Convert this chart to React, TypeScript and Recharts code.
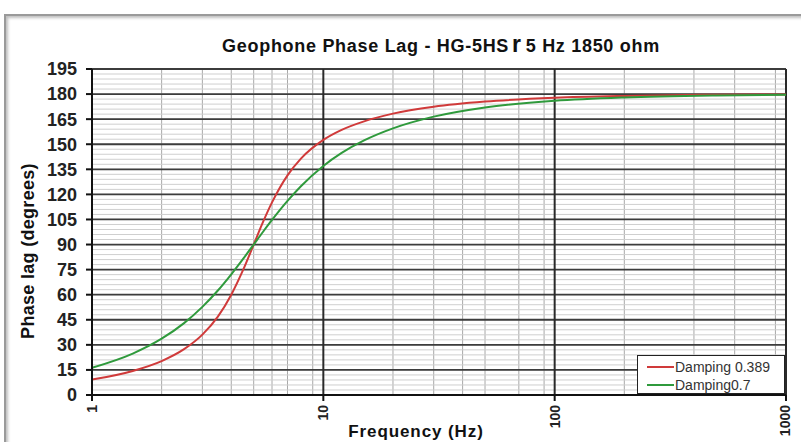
import { LineChart, Line, XAxis, YAxis, CartesianGrid } from "recharts";

const frequencies = [1, 1.5, 2, 2.5, 3, 3.5, 4, 4.5, 5, 5.5, 6, 7, 8, 10, 12, 15, 20, 30, 50, 100, 200, 500, 1000];
const damping389 = [9.2, 14.4, 20.3, 27.4, 36.1, 46.9, 60.0, 74.8, 90, 103.8, 115.2, 131.4, 141.4, 152.6, 158.6, 163.7, 168.3, 172.4, 175.5, 177.8, 178.9, 179.6, 179.8];
const damping07 = [16.3, 24.8, 33.7, 43.0, 52.7, 62.5, 72.2, 81.4, 90, 97.8, 104.7, 116.1, 124.9, 137.0, 144.8, 152.3, 159.5, 166.5, 172.0, 176.0, 178.0, 179.2, 179.6];

const series = [
  { key: "d389", name: "Damping 0.389", color: "#d03a3a" },
  { key: "d07", name: "Damping0.7", color: "#2f9a3c" },
];

const yTicks = [0, 15, 30, 45, 60, 75, 90, 105, 120, 135, 150, 165, 180, 195];
const yMinor = Array.from({ length: 66 }, (_, i) => i * 3);
const xTicks = [1, 10, 100, 1000];
const xMinor = [1, 10, 100].flatMap((d) => [2, 3, 4, 5, 6, 7, 8, 9].map((m) => m * d));

const data = frequencies.map((f, i) => ({ f, d389: damping389[i], d07: damping07[i] }));

const axisFont = "'Liberation Sans', Arial, sans-serif";

function XTick(props: any) {
  const { x, y, payload } = props;
  return (
    <text
      x={x}
      y={y}
      transform={`rotate(-90, ${x}, ${y})`}
      textAnchor="end"
      dy="0.36em"
      fontFamily={axisFont}
      fontWeight="bold"
      fontSize={14}
      fill="#222"
    >
      {payload.value}
    </text>
  );
}

export default function App() {
  return (
    <div style={{ position: "absolute", left: 0, top: 0, width: 801, height: 442, overflow: "hidden", background: "#fff" }}>
      <div
        style={{
          position: "absolute",
          left: 4,
          top: 14,
          width: 900,
          height: 500,
          borderTop: "2px solid #9a9a9a",
          borderLeft: "2px solid #9a9a9a",
          boxShadow: "inset 2px 2px 3px rgba(0,0,0,0.25)",
        }}
      />
      <div style={{ position: "absolute", left: 0, top: 0 }}>
        <LineChart width={801} height={442} data={data} margin={{ top: 69, right: 15, bottom: 0, left: 0 }}>
          <CartesianGrid horizontal={false} verticalValues={xMinor} stroke="#a8a8a8" strokeWidth={1} />
          <CartesianGrid vertical={false} horizontalValues={yMinor} stroke="#cfcfcf" strokeWidth={1} />
          <CartesianGrid vertical={false} horizontalValues={yTicks} stroke="#3c3c3c" strokeWidth={1.8} />
          <CartesianGrid horizontal={false} verticalValues={xTicks} stroke="#2a2a2a" strokeWidth={2} />
          <XAxis
            dataKey="f"
            type="number"
            scale="log"
            domain={[1, 1000]}
            ticks={xTicks}
            allowDataOverflow
            height={47}
            tick={<XTick />}
            tickSize={6}
            tickMargin={4}
            axisLine={{ stroke: "#111", strokeWidth: 2 }}
            tickLine={{ stroke: "#111", strokeWidth: 2 }}
          />
          <YAxis
            type="number"
            domain={[0, 195]}
            ticks={yTicks}
            interval={0}
            width={92}
            tickSize={6}
            tickMargin={9}
            axisLine={{ stroke: "#111", strokeWidth: 2 }}
            tickLine={{ stroke: "#111", strokeWidth: 2 }}
            tick={{ fontFamily: axisFont, fontWeight: "bold", fontSize: 18, fill: "#222" }}
          />
          {series.map((s) => (
            <Line
              key={s.key}
              dataKey={s.key}
              name={s.name}
              type="monotone"
              stroke={s.color}
              strokeWidth={2}
              dot={false}
              isAnimationActive={false}
            />
          ))}
        </LineChart>
      </div>
      <svg width={801} height={442} style={{ position: "absolute", left: 0, top: 0, pointerEvents: "none" }}>
        <text x={441} y={52} textAnchor="middle" fontFamily={axisFont} fontWeight="bold" fontSize={18} letterSpacing={0.7} fill="#111">
          Geophone Phase Lag - HG-5HS<tspan fontSize={23} dx={3}>r</tspan>
          <tspan dx={4}>5 Hz 1850 ohm</tspan>
        </text>
        <text
          x={34}
          y={251}
          transform="rotate(-90, 34, 251)"
          textAnchor="middle"
          fontFamily={axisFont}
          fontWeight="bold"
          fontSize={18}
          letterSpacing={0.3}
          fill="#111"
        >
          Phase lag (degrees)
        </text>
        <text x={416} y={437} textAnchor="middle" fontFamily={axisFont} fontWeight="bold" fontSize={17} letterSpacing={0.9} fill="#111">
          Frequency (Hz)
        </text>
      </svg>
      <div
        style={{
          position: "absolute",
          left: 637,
          top: 355,
          width: 148,
          height: 39,
          background: "#fff",
          border: "1.5px solid #222",
          boxSizing: "border-box",
          fontFamily: axisFont,
          fontSize: 14,
          color: "#333",
        }}
      >
        {series.map((s, i) => (
          <div key={s.key} style={{ position: "absolute", left: 9, top: 2 + i * 18, display: "flex", alignItems: "center", height: 17 }}>
            <span style={{ display: "inline-block", width: 27, height: 2, background: s.color }} />
            <span style={{ marginLeft: 1 }}>{s.name}</span>
          </div>
        ))}
      </div>
    </div>
  );
}
